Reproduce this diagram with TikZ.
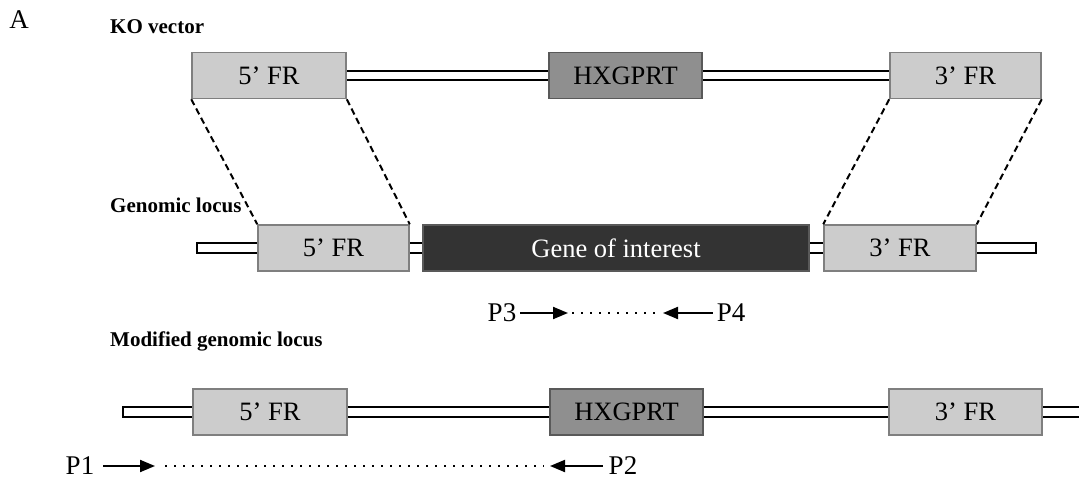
\documentclass[tikz,border=0pt]{standalone}
\usepackage{fontspec}
\setmainfont{Liberation Serif}
\usetikzlibrary{arrows.meta}
\definecolor{lightbox}{HTML}{CCCCCC}
\definecolor{lightedge}{HTML}{7F7F7F}
\definecolor{midbox}{HTML}{8F8F8F}
\definecolor{midedge}{HTML}{595959}
\definecolor{darkbox}{HTML}{333333}
\tikzset{
  frbox/.style={draw=lightedge, fill=lightbox, line width=1.5pt, inner sep=0pt,
    minimum height=46pt, font=\fontsize{26.5}{30}\selectfont},
  hxbox/.style={draw=midedge, fill=midbox, line width=1.5pt, inner sep=0pt,
    minimum height=46pt, font=\fontsize{26.5}{30}\selectfont},
  genebox/.style={draw=midedge, fill=darkbox, line width=1.5pt, inner sep=0pt,
    minimum height=46pt, text=white, font=\fontsize{26.5}{30}\selectfont},
  bb/.style={draw=black, fill=white, line width=1.4pt},
  rowlabel/.style={anchor=west, inner sep=0pt, font=\bfseries\fontsize{21}{25}\selectfont},
  plabel/.style={inner sep=0pt, font=\fontsize{27}{32}\selectfont},
  parrow/.style={line width=2pt, -{Triangle[length=15pt,width=12pt]}},
  pdots/.style={line width=2pt, dash pattern=on 2pt off 7pt},
  homol/.style={line width=2pt, dash pattern=on 6.5pt off 4pt}
}
\begin{document}
\begin{tikzpicture}[x=1pt,y=-1pt]
\useasboundingbox (0,0) rectangle (1079,487);
% labels
\node[inner sep=0pt, font=\fontsize{27}{30}\selectfont] (lA) at (19,20) {A};
\node[rowlabel] (lko) at (110,27) {KO vector};
\node[rowlabel] (lgen) at (110,205) {Genomic locus};
\node[rowlabel] (lmod) at (110,341) {Modified genomic locus};

% ---- KO vector row
\node[frbox, minimum width=154pt] (ko5) at (269,75.5) {};
\node[hxbox, minimum width=153pt] (hx) at (625.5,75.5) {};
\node[frbox, minimum width=151pt] (ko3) at (965.5,75.5) {};
\path[bb] ([yshift=4.5pt]ko5.east) rectangle ([yshift=-4.5pt]hx.west);
\path[bb] ([yshift=4.5pt]hx.east) rectangle ([yshift=-4.5pt]ko3.west);
\node[frbox, minimum width=154pt] at (ko5) {5’ FR};
\node[hxbox, minimum width=153pt] at (hx) {HXGPRT};
\node[frbox, minimum width=151pt] at (ko3) {3’ FR};

% ---- Genomic locus row
\coordinate (gL) at (197,248);
\coordinate (gR) at (1036,248);
\node[frbox, minimum width=151pt] (g5) at (333.5,248) {};
\node[genebox, minimum width=386pt] (gene) at (616,248) {};
\node[frbox, minimum width=152pt] (g3) at (900,248) {};
\path[bb] ([yshift=5pt]gL) rectangle ([yshift=-5pt]g5.west);
\path[bb] ([yshift=5pt]g5.east) rectangle ([yshift=-5pt]gene.west);
\path[bb] ([yshift=5pt]gene.east) rectangle ([yshift=-5pt]g3.west);
\path[bb] ([yshift=5pt]g3.east) rectangle ([yshift=-5pt]gR);
\node[frbox, minimum width=151pt] at (g5) {5’ FR};
\node[genebox, minimum width=386pt] at (gene) {Gene of interest};
\node[frbox, minimum width=152pt] at (g3) {3’ FR};

% homology dashed lines
\draw[homol] (ko5.south west) -- (g5.north west);
\draw[homol] (ko5.south east) -- (g5.north east);
\draw[homol] (ko3.south west) -- (g3.north west);
\draw[homol] (ko3.south east) -- (g3.north east);

% P3 / P4
\node[plabel] (p3) at (502,313) {P3};
\node[plabel] (p4) at (731,313) {P4};
\coordinate (p3h) at (568,313);
\coordinate (p4h) at (663,313);
\draw[parrow] (p3.east) ++(4pt,0) -- (p3h);
\draw[parrow] (p4.west) ++(-4pt,0) -- (p4h);
\draw[pdots] ([xshift=4pt]p3h) -- ([xshift=-3pt]p4h);

% ---- Modified genomic locus row
\coordinate (mL) at (123,412);
\coordinate (mR) at (1090,412);
\node[frbox, minimum width=154pt] (m5) at (270,412) {};
\node[hxbox, minimum width=153pt] (mhx) at (626.5,412) {};
\node[frbox, minimum width=153pt] (m3) at (965.5,412) {};
\path[bb] ([yshift=5pt]mL) rectangle ([yshift=-5pt]m5.west);
\path[bb] ([yshift=5pt]m5.east) rectangle ([yshift=-5pt]mhx.west);
\path[bb] ([yshift=5pt]mhx.east) rectangle ([yshift=-5pt]m3.west);
\path[bb] ([yshift=5pt]m3.east) rectangle ([yshift=-5pt]mR);
\node[frbox, minimum width=154pt] at (m5) {5’ FR};
\node[hxbox, minimum width=153pt] at (mhx) {HXGPRT};
\node[frbox, minimum width=153pt] at (m3) {3’ FR};

% P1 / P2
\node[plabel] (p1) at (80,466) {P1};
\node[plabel] (p2) at (623,466) {P2};
\coordinate (p1h) at (155,466);
\coordinate (p2h) at (550,466);
\draw[parrow] (p1.east) ++(9pt,0) -- (p1h);
\draw[parrow] (p2.west) ++(-6pt,0) -- (p2h);
\draw[pdots] ([xshift=10pt]p1h) -- ([xshift=-6pt]p2h);
\end{tikzpicture}
\end{document}
